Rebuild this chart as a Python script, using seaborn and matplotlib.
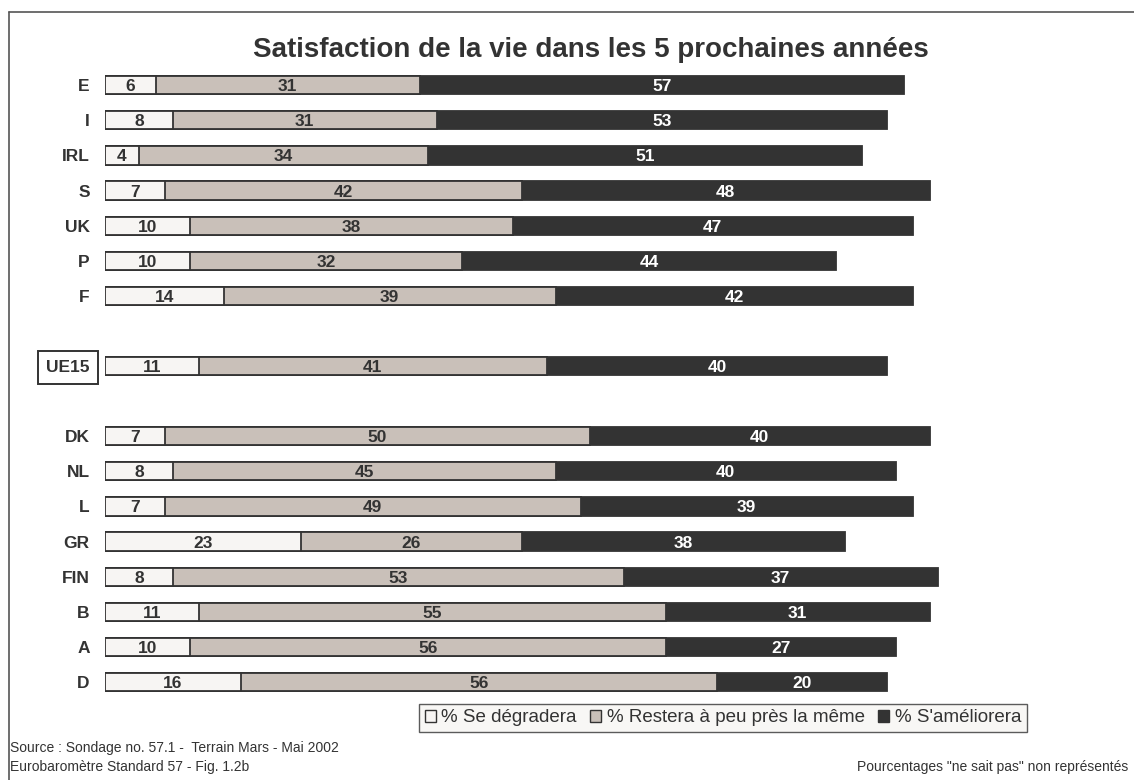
import pandas as pd
import matplotlib.pyplot as plt
import seaborn as sns
from matplotlib.patches import Patch
from matplotlib.lines import Line2D

# values (Eurobarometre 57, fig 1.2b)
countries = ['E', 'I', 'IRL', 'S', 'UK', 'P', 'F', 'UE15',
             'DK', 'NL', 'L', 'GR', 'FIN', 'B', 'A', 'D']
worse = [6, 8, 4, 7, 10, 10, 14, 11, 7, 8, 7, 23, 8, 11, 10, 16]
same = [31, 31, 34, 42, 38, 32, 39, 41, 50, 45, 49, 26, 53, 55, 56, 56]
better = [57, 53, 51, 48, 47, 44, 42, 40, 40, 40, 39, 38, 37, 31, 27, 20]

series_labels = ['% Se dégradera', '% Restera à peu près la même', "% S'améliorera"]
colors = ['#f7f5f3', '#c9c0b9', '#333333']
dark = '#333333'

# blank slots give the gaps around UE15
order = countries[:7] + [''] + ['UE15'] + [' '] + countries[8:]

df = pd.DataFrame({'pays': countries, 'worse': worse, 'same': same, 'better': better})
df['c1'] = df['worse']
df['c2'] = df['worse'] + df['same']
df['c3'] = df['c2'] + df['better']

sns.set_style('white')
plt.rcParams['font.family'] = ['Liberation Sans', 'DejaVu Sans']

fig = plt.figure(figsize=(11.34, 7.8), dpi=100)
ax = fig.add_axes([105 / 1134, 0.0987, 850 / 1134, 0.819])

# stacked bars: draw cumulative totals from back to front
for col, c in zip(['c3', 'c2', 'c1'], colors[::-1]):
    sns.barplot(data=df, x=col, y='pays', order=order, orient='h', color=c,
                width=0.52, edgecolor=dark, linewidth=1.3, saturation=1, ax=ax)

pos = {p: i for i, p in enumerate(order)}
lab_kw = dict(ha='center', va='center_baseline', fontsize=12.5, fontweight='bold')
for _, r in df.iterrows():
    y = pos[r['pays']]
    ax.text(r['worse'] / 2, y, str(r['worse']), color=dark, **lab_kw)
    ax.text(r['worse'] + r['same'] / 2, y, str(r['same']), color=dark, **lab_kw)
    ax.text(r['c2'] + r['better'] / 2, y, str(r['better']), color='white', **lab_kw)

ax.set_xlim(0, 100)
ax.set_ylim(len(order) - 1 + 0.6, -0.6)
ax.set_xlabel('')
ax.set_ylabel('')
ax.set_xticks([])
ax.tick_params(axis='y', length=0, pad=11)
for lab in ax.get_yticklabels():
    lab.set_fontsize(12.5)
    lab.set_fontweight('bold')
    lab.set_color(dark)
    if lab.get_text() == 'UE15':
        lab.set_bbox(dict(boxstyle='square,pad=0.5', facecolor='white',
                          edgecolor=dark, linewidth=1.4))
sns.despine(ax=ax, left=True, bottom=True)

fig.suptitle('Satisfaction de la vie dans les 5 prochaines années', x=0.521, y=0.952,
             fontsize=20, fontweight='bold', color=dark)

handles = [Patch(facecolor=c, edgecolor=dark, linewidth=1) for c in colors]
leg = fig.legend(handles, series_labels, loc='center', bbox_to_anchor=(723 / 1134, 1 - 718 / 780),
                 ncol=3, fontsize=13.5, frameon=True, fancybox=False, handlelength=0.6,
                 handleheight=0.6, handletextpad=0.3, columnspacing=0.7, borderpad=0.3,
                 borderaxespad=0, labelcolor=dark)
leg.get_frame().set_edgecolor(dark)
leg.get_frame().set_facecolor('#f7f5f3')
leg.get_frame().set_linewidth(1)

fig.text(10 / 1134, 1 - 748 / 780, 'Source : Sondage no. 57.1 -  Terrain Mars - Mai 2002',
         fontsize=10, color=dark, va='center')
fig.text(10 / 1134, 1 - 767 / 780, 'Eurobaromètre Standard 57 - Fig. 1.2b',
         fontsize=10, color=dark, va='center')
fig.text(1128 / 1134, 1 - 767 / 780, 'Pourcentages "ne sait pas" non représentés',
         fontsize=10, color=dark, va='center', ha='right')

# outer frame (top and left edges)
fig.add_artist(Line2D([9 / 1134, 1], [1 - 12 / 780, 1 - 12 / 780], color='#555555', lw=1.2))
fig.add_artist(Line2D([9 / 1134, 9 / 1134], [0, 1 - 12 / 780], color='#555555', lw=1.2))

fig.savefig('out.png', dpi=100)
